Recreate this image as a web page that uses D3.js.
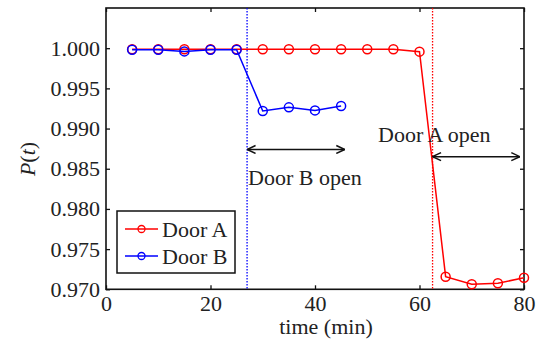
<!DOCTYPE html>
<html>
<head>
<meta charset="utf-8">
<script src="https://cdn.jsdelivr.net/npm/d3@7"></script>
<style>
  body { margin: 0; background: #fff; }
  svg text { font-family: 'Liberation Serif', Tinos, 'Times New Roman', serif; fill: #222; }
</style>
</head>
<body>
<div id="chart"></div>
<script>
// Door open probability over time

const timeA = [5, 10, 15, 20, 25, 30, 35, 40, 45, 50, 55, 60, 65, 70, 75, 80];
const doorA = [0.99987, 0.99987, 0.99987, 0.99987, 0.99987, 0.99987, 0.99987, 0.99987,
               0.99987, 0.99987, 0.99987, 0.99957, 0.97157, 0.97062, 0.97075, 0.97144];
const timeB = [5, 10, 15, 20, 25, 30, 35, 40, 45];
const doorB = [0.9998, 0.9998, 0.9996, 0.9998, 0.9998, 0.99218, 0.99264, 0.99226, 0.9928];

const xTicks = [0, 20, 40, 60, 80];
const yTicks = [0.970, 0.975, 0.980, 0.985, 0.990, 0.995, 1.000];

// door events: opening time, arrow span, arrow level, label anchor
const openB = 27, arrowB = [27, 45.7], arrowBy = 0.9874, labelB = [27.2, 0.98298];
const openA = 62.5, arrowA = [62.5, 79.2], arrowAy = 0.9865, labelA = [52.06, 0.98837];

const W = 540, H = 343, m = {top: 8, right: 16, bottom: 53.7, left: 106};
const red = '#ff0000', blue = '#0000ff';
const serif = "'Liberation Serif', Tinos, 'Times New Roman', serif";

const svg = d3.select('#chart').append('svg').attr('width', W).attr('height', H)
  .attr('font-family', serif);

const x = d3.scaleLinear().domain([0, 80]).range([m.left, W - m.right]);
const y = d3.scaleLinear().domain([0.970, 1.005]).range([H - m.bottom, m.top]);

const defs = svg.append('defs');
defs.append('marker').attr('id', 'head')
  .attr('viewBox', '0 0 10 10').attr('refX', 9.5).attr('refY', 5)
  .attr('markerWidth', 10).attr('markerHeight', 10).attr('markerUnits', 'userSpaceOnUse')
  .attr('orient', 'auto-start-reverse')
  .append('path').attr('d', 'M1,1 L9.5,5 L1,9').attr('fill', 'none')
  .attr('stroke', '#111').attr('stroke-width', 1.5);

// axes with inward ticks on all four sides
const fs = '22px';
const gx = svg.append('g').attr('transform', `translate(0,${y.range()[0]})`)
  .call(d3.axisBottom(x).tickValues(xTicks).tickSize(-4).tickSizeOuter(0).tickPadding(6));
const gy = svg.append('g').attr('transform', `translate(${m.left},0)`)
  .call(d3.axisLeft(y).tickValues(yTicks).tickFormat(d3.format('.3f')).tickSize(-4).tickSizeOuter(0).tickPadding(6));
const gt = svg.append('g').attr('transform', `translate(0,${m.top})`)
  .call(d3.axisTop(x).tickValues(xTicks).tickSize(-4).tickSizeOuter(0).tickFormat(''));
const gr = svg.append('g').attr('transform', `translate(${W - m.right},0)`)
  .call(d3.axisRight(y).tickValues(yTicks).tickSize(-4).tickSizeOuter(0).tickFormat(''));
[gx, gy, gt, gr].forEach(g => {
  g.attr('font-family', serif).attr('font-size', fs);
  g.select('.domain').remove();
  g.selectAll('line').attr('stroke', '#111').attr('stroke-width', 1.3);
  g.selectAll('text').attr('fill', '#222');
});

svg.append('rect')
  .attr('x', m.left).attr('y', m.top)
  .attr('width', W - m.left - m.right).attr('height', H - m.top - m.bottom)
  .attr('fill', 'none').attr('stroke', '#111').attr('stroke-width', 1.6);

// dotted door-open lines
[[openB, blue], [openA, red]].forEach(([t, c]) => {
  svg.append('line')
    .attr('x1', x(t)).attr('x2', x(t)).attr('y1', m.top).attr('y2', H - m.bottom)
    .attr('stroke', c).attr('stroke-width', 1.3).attr('stroke-dasharray', '1.5,1.5');
});

// series
function series(ts, vs, c) {
  const pts = ts.map((t, i) => [t, vs[i]]);
  svg.append('path').datum(pts)
    .attr('d', d3.line().x(d => x(d[0])).y(d => y(d[1])))
    .attr('fill', 'none').attr('stroke', c).attr('stroke-width', 1.5);
  svg.append('g').selectAll('circle').data(pts).enter().append('circle')
    .attr('cx', d => x(d[0])).attr('cy', d => y(d[1])).attr('r', 4.5)
    .attr('fill', 'none').attr('stroke', c).attr('stroke-width', 1.5);
}
series(timeA, doorA, red);
series(timeB, doorB, blue);

// arrows + labels
[[arrowB, arrowBy], [arrowA, arrowAy]].forEach(([span, lv]) => {
  svg.append('line')
    .attr('x1', x(span[0])).attr('x2', x(span[1])).attr('y1', y(lv)).attr('y2', y(lv))
    .attr('stroke', '#111').attr('stroke-width', 1.5)
    .attr('marker-start', 'url(#head)').attr('marker-end', 'url(#head)');
});
svg.append('text').attr('x', x(labelB[0])).attr('y', y(labelB[1]))
  .attr('font-size', fs).text('Door B open');
svg.append('text').attr('x', x(labelA[0])).attr('y', y(labelA[1]))
  .attr('font-size', fs).text('Door A open');

// axis labels
svg.append('text').attr('x', 326).attr('y', 334).attr('text-anchor', 'middle')
  .attr('font-size', fs).text('time (min)');
const yl = svg.append('text').attr('transform', 'translate(35,159) rotate(-90)')
  .attr('text-anchor', 'middle').attr('font-size', fs);
yl.append('tspan').attr('font-style', 'italic').text('P');
yl.append('tspan').text('(');
yl.append('tspan').attr('font-style', 'italic').text('t');
yl.append('tspan').text(')');

// legend
const lg = svg.append('g').attr('transform', 'translate(117,211)');
lg.append('rect').attr('width', 118).attr('height', 62)
  .attr('fill', '#fff').attr('stroke', '#111').attr('stroke-width', 1.5);
[['Door A', red, 18], ['Door B', blue, 45]].forEach(([name, c, ly]) => {
  lg.append('line').attr('x1', 8).attr('x2', 41).attr('y1', ly).attr('y2', ly)
    .attr('stroke', c).attr('stroke-width', 1.5);
  lg.append('circle').attr('cx', 24.5).attr('cy', ly).attr('r', 3.5)
    .attr('fill', 'none').attr('stroke', c).attr('stroke-width', 1.3);
  lg.append('text').attr('x', 45).attr('y', ly + 7.5).attr('font-size', fs).text(name);
});
</script>
</body>
</html>
